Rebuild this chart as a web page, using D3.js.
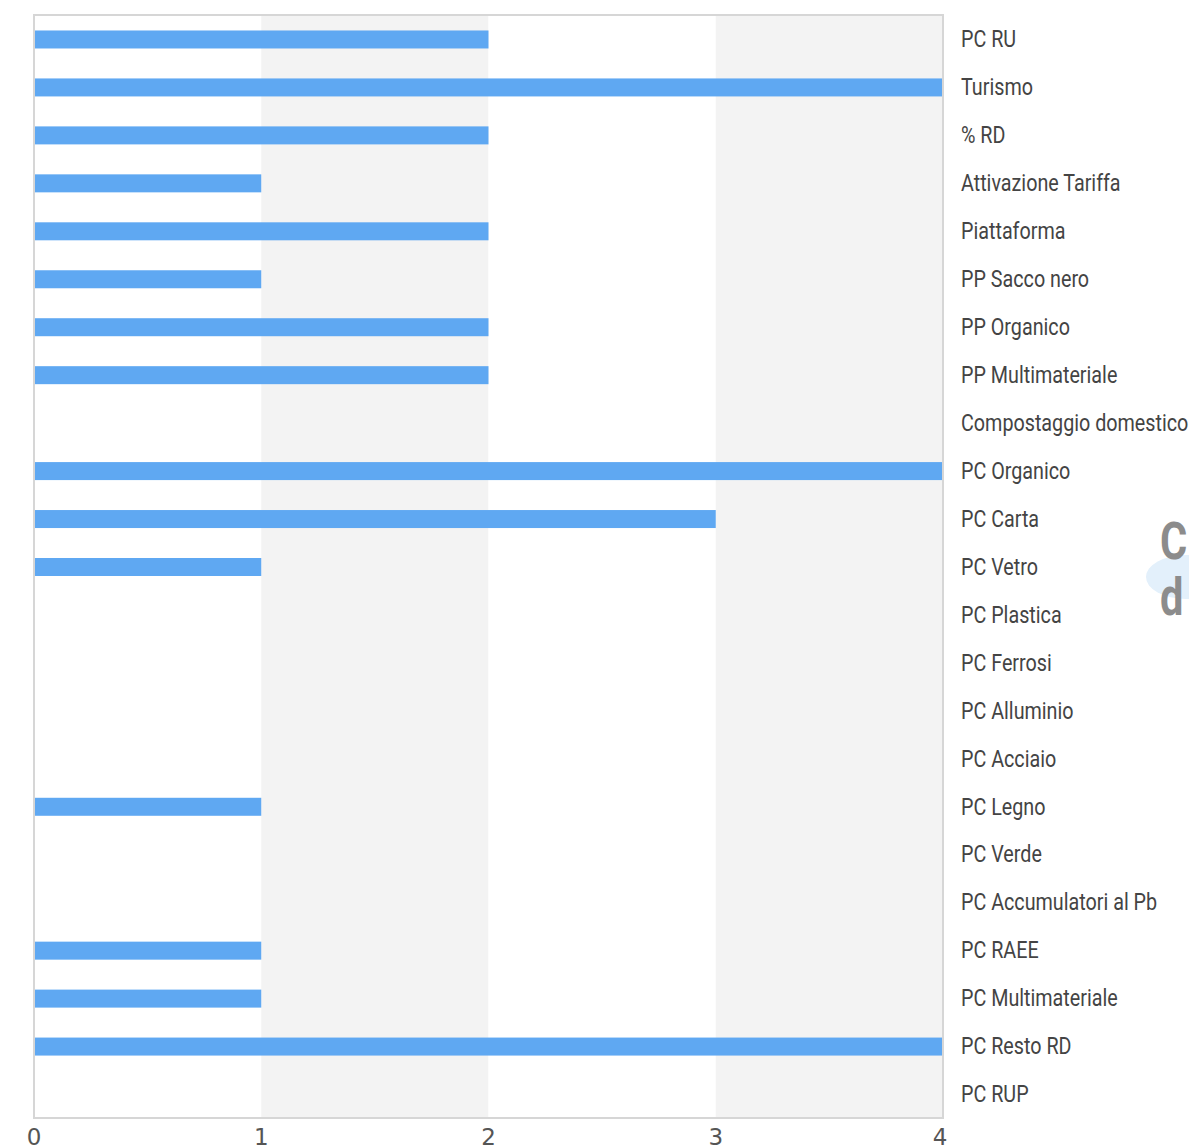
<!DOCTYPE html>
<html>
<head>
<meta charset="utf-8">
<script src="https://cdn.jsdelivr.net/npm/d3@7"></script>
<style>
  body { margin: 0; background: #fff; }
  svg { display: block; }
</style>
</head>
<body>
<div id="chart"></div>
<script>
// categories top to bottom, with their values
var categories = ["PC RU", "Turismo", "% RD", "Attivazione Tariffa", "Piattaforma",
  "PP Sacco nero", "PP Organico", "PP Multimateriale", "Compostaggio domestico",
  "PC Organico", "PC Carta", "PC Vetro", "PC Plastica", "PC Ferrosi", "PC Alluminio",
  "PC Acciaio", "PC Legno", "PC Verde", "PC Accumulatori al Pb", "PC RAEE",
  "PC Multimateriale", "PC Resto RD", "PC RUP"];
var values = [2, 4, 2, 1, 2, 1, 2, 2, 0, 4, 3, 1, 0, 0, 0, 0, 1, 0, 0, 1, 1, 4, 0];
var xTicks = [0, 1, 2, 3, 4];

var W = 1189, H = 1148;
var padL = 34, padR = 943, padT = 15, padB = 1118;

var svg = d3.select("#chart").append("svg").attr("width", W).attr("height", H);

var x = d3.scaleLinear().domain([0, 4]).range([padL, padR]);
var y = d3.scaleBand().domain(categories).range([padT, padB]);

// alternating background bands
svg.selectAll("rect.band")
  .data(xTicks.slice(0, -1))
  .enter()
  .append("rect")
  .attr("class", "band")
  .attr("x", d => x(d))
  .attr("y", padT)
  .attr("width", d => x(d + 1) - x(d))
  .attr("height", padB - padT)
  .attr("fill", (d, i) => i % 2 ? "#f3f3f3" : "#ffffff");

// bars
var barH = 18;
var rows = categories.map((c, i) => ({c: c, v: values[i]})).filter(d => d.v > 0);
svg.selectAll("rect.bar")
  .data(rows)
  .enter()
  .append("rect")
  .attr("class", "bar")
  .attr("x", x(0) + 1)
  .attr("y", d => y(d.c) + y.bandwidth() / 2 - barH / 2 + 0.5)
  .attr("width", d => x(d.v) - x(0) - 1)
  .attr("height", barH)
  .attr("fill", "#5fa8f2");

// frame
svg.append("rect")
  .attr("x", padL).attr("y", padT)
  .attr("width", padR - padL).attr("height", padB - padT)
  .attr("fill", "none")
  .attr("stroke", "#d6d6d6")
  .attr("stroke-width", 2);

// category labels on the right (condensed look: squeeze horizontally)
svg.selectAll("text.cat")
  .data(categories)
  .enter()
  .append("text")
  .attr("class", "cat")
  .attr("transform", d => "translate(961," + (y(d) + y.bandwidth() / 2) + ") scale(0.84,1)")
  .attr("dy", "0.35em")
  .attr("font-family", "Roboto, sans-serif")
  .attr("font-size", 23.5)
  .attr("fill", "#444")
  .text(d => d);

// x axis tick labels
svg.selectAll("text.tick")
  .data(xTicks)
  .enter()
  .append("text")
  .attr("class", "tick")
  .attr("x", d => x(d) - (d == 4 ? 3 : 0))
  .attr("y", 1145)
  .attr("text-anchor", "middle")
  .attr("font-family", "'DejaVu Sans', sans-serif")
  .attr("font-size", 23)
  .attr("fill", "#555")
  .text(d => d);

// cut-off logo at the right edge
svg.append("ellipse")
  .attr("cx", 1186).attr("cy", 577)
  .attr("rx", 40).attr("ry", 22)
  .attr("fill", "#e3f0fb");
svg.append("text")
  .attr("transform", "translate(1160,559) scale(0.8,1)")
  .attr("font-family", "Roboto, sans-serif")
  .attr("font-weight", "bold")
  .attr("font-size", 52)
  .attr("fill", "#8c8c8c")
  .text("C");
svg.append("text")
  .attr("transform", "translate(1160,615) scale(0.8,1)")
  .attr("font-family", "Roboto, sans-serif")
  .attr("font-weight", "bold")
  .attr("font-size", 52)
  .attr("fill", "#8c8c8c")
  .text("d");
</script>
</body>
</html>
